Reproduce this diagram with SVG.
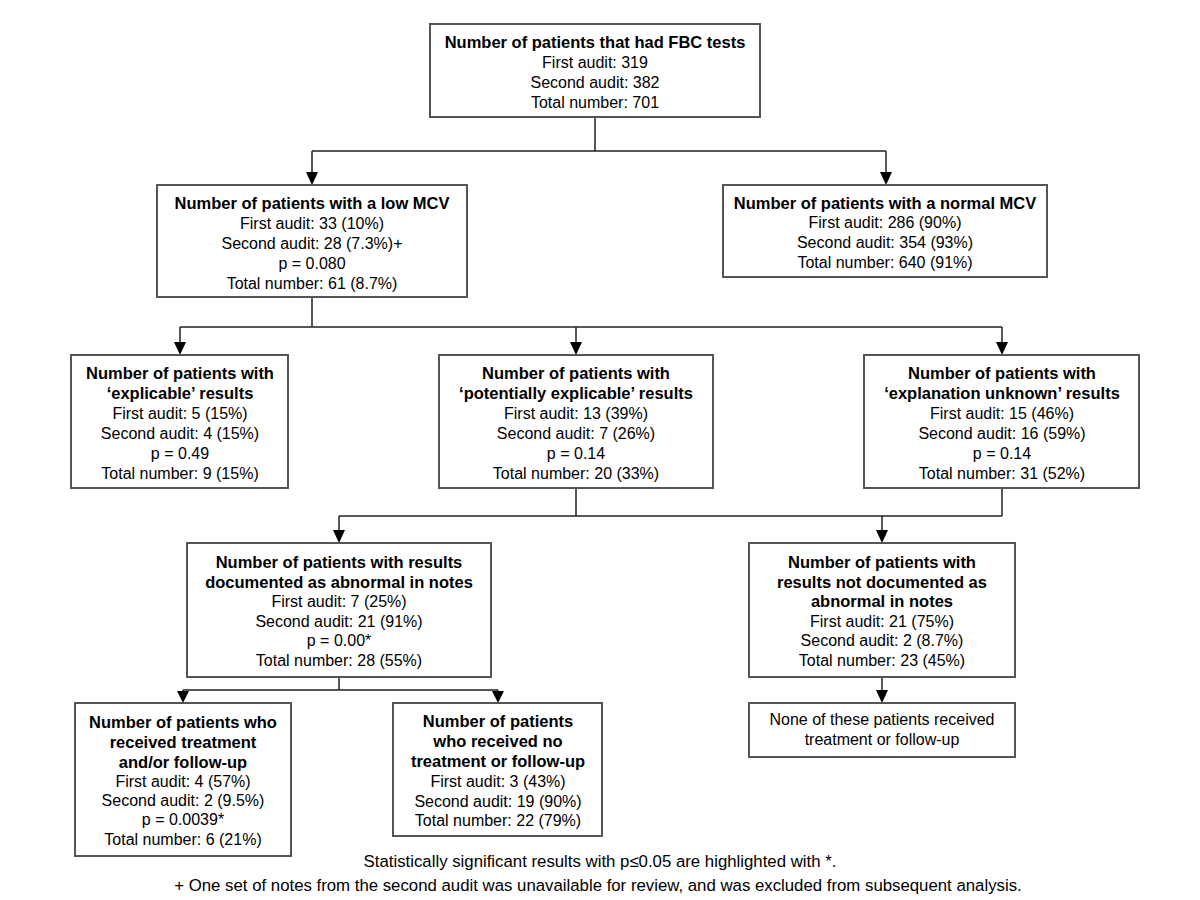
<svg xmlns="http://www.w3.org/2000/svg" width="1200" height="900" viewBox="0 0 1200 900">
<style>
.box{fill:#fff;stroke:#555;stroke-width:2}
.c{fill:none;stroke:#222;stroke-width:1.5}
text{font-family:"Liberation Sans",Arial,sans-serif;font-size:16px;fill:#000;text-anchor:middle}
.b{font-weight:bold;font-size:16.5px}
.f{font-size:16.8px}
</style>
<rect width="1200" height="900" fill="#fff"/>
<g id="connectors">
<path class="c" d="M595,117 V151 M312,151 H886 M312,151 V172 M886,151 V172"/>
<polygon points="306,172 318,172 312,185"/>
<polygon points="880,172 892,172 886,185"/>
<path class="c" d="M312,297 V327 M180,327 H1002 M180,327 V342 M576,327 V342 M1002,327 V342"/>
<polygon points="174,342 186,342 180,355"/>
<polygon points="570,342 582,342 576,355"/>
<polygon points="996,342 1008,342 1002,355"/>
<path class="c" d="M576,488 V516 M1002,488 V516 M339,516 H1002 M339,516 V530 M882,516 V530"/>
<polygon points="333,530 345,530 339,543"/>
<polygon points="876,530 888,530 882,543"/>
<path class="c" d="M882,677 V690"/>
<polygon points="876,690 888,690 882,703"/>
<path class="c" d="M339,677 V690 M183,690 H498 M183,690 V692 M498,690 V692"/>
<polygon points="177,691 189,691 183,703"/>
<polygon points="492,691 504,691 498,703"/>
</g>
<g id="n_fbc">
<rect class="box" x="430" y="24" width="330" height="93"/>
<text class="b" x="595" y="48">Number of patients that had FBC tests</text>
<text x="595" y="68">First audit: 319</text>
<text x="595" y="88">Second audit: 382</text>
<text x="595" y="108">Total number: 701</text>
</g>
<g id="n_low">
<rect class="box" x="157" y="185" width="310" height="112"/>
<text class="b" x="312" y="209">Number of patients with a low MCV</text>
<text x="312" y="229">First audit: 33 (10%)</text>
<text x="312" y="249">Second audit: 28 (7.3%)+</text>
<text x="312" y="269">p = 0.080</text>
<text x="312" y="289">Total number: 61 (8.7%)</text>
</g>
<g id="n_normal">
<rect class="box" x="723" y="185" width="324" height="92"/>
<text class="b" x="885" y="209">Number of patients with a normal MCV</text>
<text x="885" y="228">First audit: 286 (90%)</text>
<text x="885" y="248">Second audit: 354 (93%)</text>
<text x="885" y="268">Total number: 640 (91%)</text>
</g>
<g id="n_explicable">
<rect class="box" x="71" y="355" width="217" height="133"/>
<text class="b" x="180" y="379">Number of patients with</text>
<text class="b" x="180" y="399">‘explicable’ results</text>
<text x="180" y="419">First audit: 5 (15%)</text>
<text x="180" y="439">Second audit: 4 (15%)</text>
<text x="180" y="459">p = 0.49</text>
<text x="180" y="479">Total number: 9 (15%)</text>
</g>
<g id="n_potential">
<rect class="box" x="439" y="355" width="274" height="133"/>
<text class="b" x="576" y="379">Number of patients with</text>
<text class="b" x="576" y="399">‘potentially explicable’ results</text>
<text x="576" y="419">First audit: 13 (39%)</text>
<text x="576" y="439">Second audit: 7 (26%)</text>
<text x="576" y="459">p = 0.14</text>
<text x="576" y="479">Total number: 20 (33%)</text>
</g>
<g id="n_unknown">
<rect class="box" x="864" y="355" width="275" height="133"/>
<text class="b" x="1002" y="379">Number of patients with</text>
<text class="b" x="1002" y="399">‘explanation unknown’ results</text>
<text x="1002" y="419">First audit: 15 (46%)</text>
<text x="1002" y="439">Second audit: 16 (59%)</text>
<text x="1002" y="459">p = 0.14</text>
<text x="1002" y="479">Total number: 31 (52%)</text>
</g>
<g id="n_documented">
<rect class="box" x="187" y="543" width="304" height="134"/>
<text class="b" x="339" y="568">Number of patients with results</text>
<text class="b" x="339" y="588">documented as abnormal in notes</text>
<text x="339" y="607">First audit: 7 (25%)</text>
<text x="339" y="627">Second audit: 21 (91%)</text>
<text x="339" y="646">p = 0.00*</text>
<text x="339" y="666">Total number: 28 (55%)</text>
</g>
<g id="n_notdocumented">
<rect class="box" x="749" y="543" width="266" height="134"/>
<text class="b" x="882" y="568">Number of patients with</text>
<text class="b" x="882" y="588">results not documented as</text>
<text class="b" x="882" y="607">abnormal in notes</text>
<text x="882" y="627">First audit: 21 (75%)</text>
<text x="882" y="646">Second audit: 2 (8.7%)</text>
<text x="882" y="666">Total number: 23 (45%)</text>
</g>
<g id="n_none">
<rect class="box" x="749" y="703" width="266" height="54"/>
<text x="882" y="725">None of these patients received</text>
<text x="882" y="745">treatment or follow-up</text>
</g>
<g id="n_treated">
<rect class="box" x="75" y="703" width="216" height="153"/>
<text class="b" x="183" y="728">Number of patients who</text>
<text class="b" x="183" y="748">received treatment</text>
<text class="b" x="183" y="768">and/or follow-up</text>
<text x="183" y="787">First audit: 4 (57%)</text>
<text x="183" y="806">Second audit: 2 (9.5%)</text>
<text x="183" y="825">p = 0.0039*</text>
<text x="183" y="845">Total number: 6 (21%)</text>
</g>
<g id="n_untreated">
<rect class="box" x="393" y="703" width="209" height="133"/>
<text class="b" x="498" y="727">Number of patients</text>
<text class="b" x="498" y="747">who received no</text>
<text class="b" x="498" y="767">treatment or follow-up</text>
<text x="498" y="787">First audit: 3 (43%)</text>
<text x="498" y="807">Second audit: 19 (90%)</text>
<text x="498" y="826">Total number: 22 (79%)</text>
</g>
<g id="footnotes">
<text class="f" x="600" y="867">Statistically significant results with p≤0.05 are highlighted with *.</text>
<text class="f" x="598" y="891">+ One set of notes from the second audit was unavailable for review, and was excluded from subsequent analysis.</text>
</g>
</svg>
